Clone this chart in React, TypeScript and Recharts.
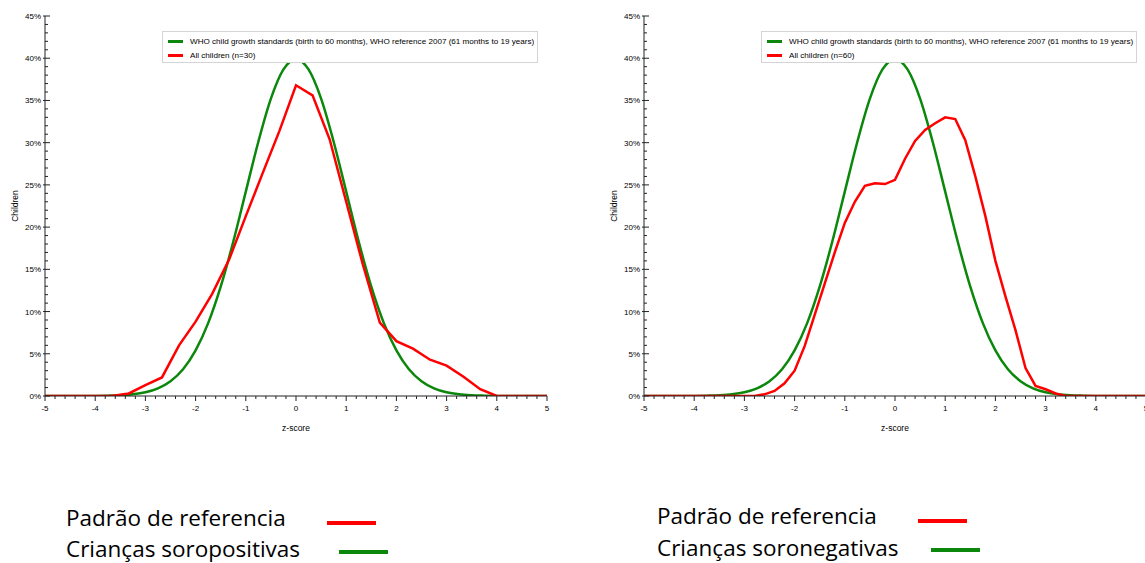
import { LineChart, Line, XAxis, YAxis, Legend } from 'recharts'

// z-score axis
const Z_TICKS = [-5, -4, -3, -2, -1, 0, 1, 2, 3, 4, 5]
const PCT_TICKS = [0, 5, 10, 15, 20, 25, 30, 35, 40, 45]

// WHO reference curve (step 0.25)
const WHO_Z = [
  -5, -4.75, -4.5, -4.25, -4, -3.75, -3.5, -3.25, -3, -2.75, -2.5, -2.25, -2, -1.75, -1.5, -1.25, -1, -0.75, -0.5,
  -0.25, 0, 0.25, 0.5, 0.75, 1, 1.25, 1.5, 1.75, 2, 2.25, 2.5, 2.75, 3, 3.25, 3.5, 3.75, 4, 4.25, 4.5, 4.75, 5,
]
const WHO_PCT = [
  0, 0, 0, 0, 0.01, 0.04, 0.09, 0.2, 0.44, 0.91, 1.75, 3.17, 5.4, 8.63, 12.95, 18.26, 24.2, 30.11, 35.21, 38.67,
  39.89, 38.67, 35.21, 30.11, 24.2, 18.26, 12.95, 8.63, 5.4, 3.17, 1.75, 0.91, 0.44, 0.2, 0.09, 0.04, 0.01, 0, 0, 0, 0,
]

// left panel: all children (n=30)
const POS_Z = [
  -5, -3.67, -3.33, -3, -2.67, -2.33, -2, -1.67, -1.33, -1, -0.67, -0.33, 0, 0.33, 0.67, 1, 1.33, 1.67, 2, 2.33, 2.67,
  3, 3.33, 3.67, 4, 5,
]
const POS_PCT = [
  0, 0, 0.3, 1.3, 2.2, 6.0, 8.8, 12.1, 16.2, 21.3, 26.3, 31.4, 36.8, 35.6, 30.4, 23.0, 15.6, 8.7, 6.5, 5.6, 4.3, 3.6,
  2.3, 0.8, 0, 0,
]

// right panel: all children (n=60)
const NEG_Z = [
  -5, -2.8, -2.6, -2.4, -2.2, -2, -1.8, -1.6, -1.4, -1.2, -1, -0.8, -0.6, -0.4, -0.2, 0, 0.2, 0.4, 0.6, 0.8, 1, 1.2,
  1.4, 1.6, 1.8, 2, 2.2, 2.4, 2.6, 2.8, 3, 3.2, 3.4, 5,
]
const NEG_PCT = [
  0, 0, 0.2, 0.6, 1.5, 3.0, 5.9, 9.6, 13.3, 17.0, 20.5, 23.0, 24.9, 25.2, 25.1, 25.6, 28.1, 30.2, 31.5, 32.3, 33.0,
  32.8, 30.3, 26.0, 21.3, 16.0, 11.8, 7.8, 3.3, 1.2, 0.8, 0.3, 0, 0,
]

const WHO_NAME = 'WHO child growth standards (birth to 60 months), WHO reference 2007 (61 months to 19 years)'

// tick marks only (axis decoration)
const MINOR_Z = Array.from({ length: 51 }, (_, i) => Math.round((-5 + i * 0.2) * 10) / 10)
const MINOR_PCT = Array.from({ length: 46 }, (_, i) => i)

const GREEN = '#0b880b'
const RED = '#ff0000'
const AXIS = '#222'
const FONT = '"Liberation Sans", Arial, sans-serif'

const isMajorZ = (v: number) => Z_TICKS.includes(v)
const isMajorPct = (v: number) => PCT_TICKS.includes(v)

// bottom axis: ticks hang below, labels only on whole z values
function ZTick({ x, y, payload }: any) {
  const major = isMajorZ(payload.value)
  return (
    <g>
      <line x1={x} x2={x} y1={y} y2={y + (major ? 5 : 3)} stroke={AXIS} />
      {major && (
        <text x={x} y={y + 15} textAnchor="middle" fontSize={8} fontFamily={FONT} fill="#000">
          {payload.value}
        </text>
      )}
    </g>
  )
}

// left axis: ticks point into the plot, labels outside
function PctTick({ x, y, payload }: any) {
  const major = isMajorPct(payload.value)
  return (
    <g>
      <line x1={x - (major ? 2 : 0)} x2={x + (major ? 5 : 3)} y1={y} y2={y} stroke={AXIS} />
      {major && (
        <text x={x - 4} y={y + 3} textAnchor="end" fontSize={8} fontFamily={FONT} fill="#000">
          {`${payload.value}%`}
        </text>
      )}
    </g>
  )
}

function TopTick({ x, y }: any) {
  return <line x1={x} x2={x} y1={y} y2={y + 5} stroke={AXIS} />
}

function RightTick({ x, y }: any) {
  return <line x1={x} x2={x - 5} y1={y} y2={y} stroke={AXIS} />
}

function ChartLegend({ payload }: any) {
  const items = [...(payload || [])].sort((a: any, b: any) => (a.value === WHO_NAME ? -1 : b.value === WHO_NAME ? 1 : 0))
  return (
    <div
      style={{
        width: 376,
        height: 32,
        border: '1px solid #d4d4d4',
        boxSizing: 'border-box',
        background: '#fff',
        fontFamily: FONT,
        fontSize: 8.1,
        color: '#000',
        paddingTop: 2,
      }}
    >
      {items.map((p: any) => (
        <div key={p.value} style={{ display: 'flex', alignItems: 'center', height: 14, whiteSpace: 'nowrap' }}>
          <span style={{ display: 'inline-block', width: 15, height: 3, background: p.color, marginLeft: 5, marginRight: 7 }} />
          <span>{p.value}</span>
        </div>
      ))}
    </div>
  )
}

function Panel({ left, z, pct, n }: { left: number; z: number[]; pct: number[]; n: number }) {
  const who = WHO_Z.map((x, i) => ({ z: x, v: WHO_PCT[i] }))
  const kids = z.map((x, i) => ({ z: x, v: pct[i] }))

  return (
    <div style={{ position: 'absolute', left, top: 0 }}>
      <LineChart width={570} height={440} margin={{ top: 16, right: 23, bottom: 0, left: 0 }}>
        <XAxis
          xAxisId="main"
          type="number"
          dataKey="z"
          domain={[-5, 5]}
          allowDataOverflow
          ticks={MINOR_Z}
          interval={0}
          height={44}
          tick={<ZTick />}
          tickSize={0}
          tickMargin={0}
          tickLine={false}
          axisLine={{ stroke: AXIS }}
          label={({ viewBox }: any) => (
            <text
              x={viewBox.x + viewBox.width / 2}
              y={viewBox.y + 35}
              textAnchor="middle"
              fontSize={8.5}
              fontFamily={FONT}
              fill="#000"
            >
              z-score
            </text>
          )}
        />
        <XAxis
          xAxisId="top"
          orientation="top"
          mirror
          type="number"
          dataKey="z"
          domain={[-5, 5]}
          allowDataOverflow
          ticks={Z_TICKS}
          interval={0}
          height={0}
          tick={<TopTick />}
          tickSize={0}
          tickMargin={0}
          tickLine={false}
          axisLine={{ stroke: AXIS }}
        />
        <YAxis
          yAxisId="main"
          type="number"
          domain={[0, 45]}
          allowDataOverflow
          ticks={MINOR_PCT}
          interval={0}
          width={45}
          tick={<PctTick />}
          tickSize={0}
          tickMargin={0}
          tickLine={false}
          axisLine={{ stroke: AXIS }}
          label={({ viewBox }: any) => (
            <text
              x={18}
              y={viewBox.y + viewBox.height / 2}
              transform={`rotate(-90 18 ${viewBox.y + viewBox.height / 2})`}
              textAnchor="middle"
              fontSize={8.5}
              fontFamily={FONT}
              fill="#000"
            >
              Children
            </text>
          )}
        />
        <YAxis
          yAxisId="right"
          orientation="right"
          mirror
          type="number"
          domain={[0, 45]}
          allowDataOverflow
          ticks={PCT_TICKS}
          interval={0}
          width={0}
          tick={<RightTick />}
          tickSize={0}
          tickMargin={0}
          tickLine={false}
          axisLine={{ stroke: AXIS }}
        />
        <Legend
          layout="vertical"
          align="center"
          verticalAlign="middle"
          content={<ChartLegend />}
          wrapperStyle={{ left: 162, top: 31, width: 376, height: 32 }}
        />
        <Line
          xAxisId="main"
          yAxisId="main"
          data={who}
          dataKey="v"
          name={WHO_NAME}
          type="monotone"
          stroke={GREEN}
          strokeWidth={2.5}
          dot={false}
          isAnimationActive={false}
        />
        <Line
          xAxisId="main"
          yAxisId="main"
          data={kids}
          dataKey="v"
          name={`All children (n=${n})`}
          type="linear"
          stroke={RED}
          strokeWidth={2.5}
          dot={false}
          isAnimationActive={false}
        />
      </LineChart>
    </div>
  )
}

function KeyRow({ text, color, top, left, lineLeft, lineTop }: any) {
  return (
    <>
      <div
        style={{
          position: 'absolute',
          left,
          top,
          fontFamily: '"Open Sans", sans-serif',
          fontSize: 22.5,
          lineHeight: '28px',
          color: '#000',
          whiteSpace: 'nowrap',
        }}
      >
        {text}
      </div>
      <div style={{ position: 'absolute', left: lineLeft, top: lineTop, width: 49, height: 4, background: color }} />
    </>
  )
}

export default function App() {
  return (
    <div style={{ position: 'absolute', left: 0, top: 0, width: 1145, height: 563, overflow: 'hidden', background: '#fff' }}>
      <Panel left={0} z={POS_Z} pct={POS_PCT} n={30} />
      <Panel left={599} z={NEG_Z} pct={NEG_PCT} n={60} />
      <KeyRow text="Padrão de referencia" color={RED} left={66} top={504} lineLeft={327} lineTop={521} />
      <KeyRow text="Crianças soropositivas" color={GREEN} left={66} top={535} lineLeft={339} lineTop={550} />
      <KeyRow text="Padrão de referencia" color={RED} left={657} top={502} lineLeft={918} lineTop={519} />
      <KeyRow text="Crianças soronegativas" color={GREEN} left={657} top={534} lineLeft={931} lineTop={548} />
    </div>
  )
}
